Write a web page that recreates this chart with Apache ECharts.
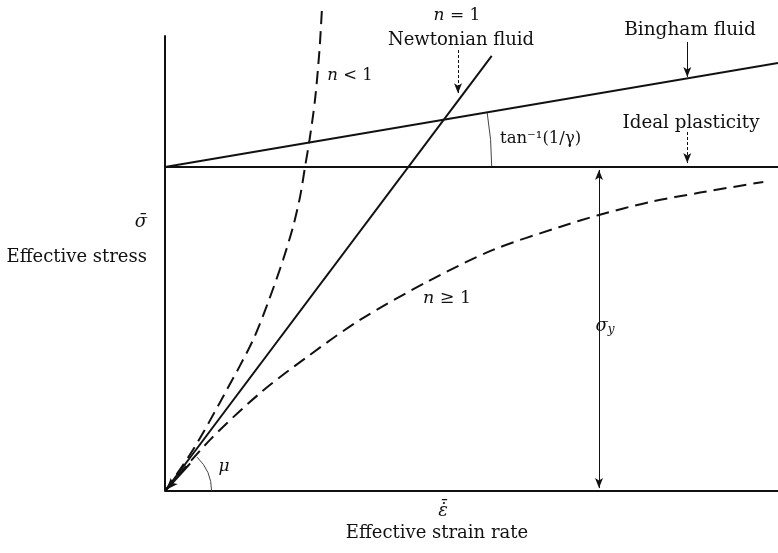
<!DOCTYPE html>
<html>
<head>
<meta charset="utf-8">
<script src="https://cdn.jsdelivr.net/npm/echarts@6/dist/echarts.min.js"></script>
<style>
html,body{margin:0;padding:0;background:#fff;}
#chart{width:778px;height:553px;}
</style>
</head>
<body>
<div id="chart"></div>
<script>
// ---- data (x: effective strain rate, y: effective stress, arbitrary units; σy = 1) ----
const xMax = 10;
const yMax = 1.5;
const yAxisTop = 1.407;
const yieldStress = 1.0;
const newtonian = [[0, 0], [5.33, 1.343]];
const bingham = [[0, 1.0], [10, 1.321]];
const idealPlasticity = [[0, 1.0], [10, 1.0]];
const nLessThan1 = [
  [0, 0], [0.457, 0.127], [0.979, 0.302], [1.436, 0.466], [1.697, 0.590], [1.925, 0.713],
  [2.088, 0.815], [2.202, 0.907], [2.284, 1.0], [2.357, 1.083], [2.447, 1.207], [2.520, 1.361], [2.561, 1.491]
];
const nGreaterEq1 = [
  [0, 0], [0.73, 0.157], [1.55, 0.302], [2.32, 0.414], [3.18, 0.528], [4.27, 0.645],
  [5.35, 0.744], [6.44, 0.815], [7.08, 0.852], [7.91, 0.892], [8.73, 0.921], [9.76, 0.954]
];
const sigmaYx = 7.08;
const arrowNewtonian = [[4.78, 1.361], [4.78, 1.228]];
const arrowBingham = [[8.52, 1.386], [8.52, 1.278]];
const arrowPlastic = [[8.52, 1.108], [8.52, 1.012]];
const arrowOrigin = [[0.41, 0.085], [0.02, 0.004]];
const muRay = [[0, 0], [1, 0.2]];
const arcs = [
  // angle arcs: centre, radius (in x units), measured from horizontal up to a line
  { cx: 0, cy: 1.0, r: 5.33, line: bingham },
  { cx: 0, cy: 0, r: 0.76, line: muRay }
];

const chart = echarts.init(document.getElementById('chart'), null, { renderer: 'canvas' });
const serif = '"DejaVu Serif", "Liberation Serif", serif';
const black = '#111';

function lineSeries(data, opts) {
  return Object.assign({
    type: 'line', data: data, showSymbol: false, symbol: 'none', silent: true,
    animation: false,
    lineStyle: { color: black, width: 2 }
  }, opts || {});
}
function italicRich(size) {
  return { i: { fontStyle: 'italic', fontFamily: serif, fontSize: size } };
}

const option = {
  animation: false,
  backgroundColor: '#fff',
  grid: { left: 165, right: 0, top: 5, bottom: 62 },
  xAxis: {
    type: 'value', min: 0, max: xMax,
    axisLine: { show: true, onZero: false, lineStyle: { color: black, width: 2 } },
    axisTick: { show: false }, axisLabel: { show: false }, splitLine: { show: false }
  },
  yAxis: {
    type: 'value', min: 0, max: yMax,
    axisLine: { show: false }, axisTick: { show: false }, axisLabel: { show: false }, splitLine: { show: false }
  },
  series: [
    lineSeries([[0, 0], [0, yAxisTop]]),
    lineSeries(newtonian),
    lineSeries(bingham),
    lineSeries(idealPlasticity, {
      markLine: {
        silent: true, animation: false,
        symbolSize: [6, 10],
        label: { show: false },
        lineStyle: { color: black, width: 1, type: 'solid' },
        data: [
          [{ coord: [sigmaYx, 0.009], symbol: 'arrow' }, { coord: [sigmaYx, yieldStress - 0.009], symbol: 'arrow' }],
          [{ coord: arrowNewtonian[0], symbol: 'none', lineStyle: { type: [3, 2] } }, { coord: arrowNewtonian[1], symbol: 'arrow' }],
          [{ coord: arrowBingham[0], symbol: 'none' }, { coord: arrowBingham[1], symbol: 'arrow' }],
          [{ coord: arrowPlastic[0], symbol: 'none', lineStyle: { type: [3, 2] } }, { coord: arrowPlastic[1], symbol: 'arrow' }],
          [{ coord: arrowOrigin[0], symbol: 'none', lineStyle: { width: 2 } }, { coord: arrowOrigin[1], symbol: 'arrow', symbolSize: [7, 12] }]
        ]
      }
    }),
    lineSeries(nLessThan1, { smooth: 0.3, lineStyle: { color: black, width: 2, type: [13, 7] } }),
    lineSeries(nGreaterEq1, { smooth: 0.3, lineStyle: { color: black, width: 2, type: [13, 7] } }),
    {
      type: 'custom', silent: true, animation: false,
      data: arcs.map((a, i) => [a.cx, a.cy, a.r, i]),
      renderItem: function (params, api) {
        const a = arcs[api.value(3)];
        const c = api.coord([a.cx, a.cy]);
        const rp = api.coord([a.cx + a.r, a.cy])[0] - c[0];
        const p0 = api.coord(a.line[0]);
        const p1 = api.coord(a.line[1]);
        const ang = Math.atan2(p1[1] - p0[1], p1[0] - p0[0]);
        return {
          type: 'arc',
          shape: { cx: c[0], cy: c[1], r: rp, startAngle: ang, endAngle: 0, clockwise: true },
          style: { stroke: '#444', lineWidth: 1, fill: null }
        };
      }
    }
  ],
  graphic: [
    { type: 'text', x: 457, y: 16, style: { text: '{i|n} = 1', align: 'center', verticalAlign: 'middle', font: '17px ' + serif, fill: black, rich: italicRich(17) } },
    { type: 'text', x: 461, y: 40, style: { text: 'Newtonian fluid', align: 'center', verticalAlign: 'middle', font: '18px ' + serif, fill: black } },
    { type: 'text', x: 690, y: 30, style: { text: 'Bingham fluid', align: 'center', verticalAlign: 'middle', font: '18.5px ' + serif, fill: black } },
    { type: 'text', x: 691, y: 123, style: { text: 'Ideal plasticity', align: 'center', verticalAlign: 'middle', font: '18.3px ' + serif, fill: black } },
    { type: 'text', x: 500, y: 139, style: { text: 'tan⁻¹(1/γ)', align: 'left', verticalAlign: 'middle', font: '16.5px ' + serif, fill: black } },
    { type: 'text', x: 350, y: 76, style: { text: '{i|n} < 1', align: 'center', verticalAlign: 'middle', font: '16.5px ' + serif, fill: black, rich: italicRich(16.5) } },
    { type: 'text', x: 447, y: 298, style: { text: '{i|n} ≥ 1', align: 'center', verticalAlign: 'middle', font: '17.5px ' + serif, fill: black, rich: italicRich(17.5) } },
    { type: 'text', x: 605, y: 326, style: { text: '{s|σ}{y|y}', align: 'center', verticalAlign: 'middle', backgroundColor: '#fff', padding: [3, 1, 3, 1], fill: black, rich: { s: { fontStyle: 'italic', fontFamily: serif, fontSize: 18 }, y: { fontStyle: 'italic', fontFamily: serif, fontSize: 12, verticalAlign: 'bottom', padding: [8, 0, 0, 0] } } } },
    { type: 'text', x: 224, y: 467, style: { text: 'μ', align: 'center', verticalAlign: 'middle', font: 'italic 17px ' + serif, fill: black } },
    { type: 'text', x: 141, y: 222, style: { text: 'σ̄', align: 'center', verticalAlign: 'middle', font: 'italic 18px ' + serif, fill: black } },
    { type: 'text', x: 147, y: 257, style: { text: 'Effective stress', align: 'right', verticalAlign: 'middle', font: '18px ' + serif, fill: black } },
    { type: 'text', x: 443, y: 511, style: { text: 'ε̇̄', align: 'center', verticalAlign: 'middle', font: 'italic 18px ' + serif, fill: black } },
    { type: 'text', x: 437, y: 533, style: { text: 'Effective strain rate', align: 'center', verticalAlign: 'middle', font: '18px ' + serif, fill: black } }
  ]
};
chart.setOption(option);
</script>
</body>
</html>
